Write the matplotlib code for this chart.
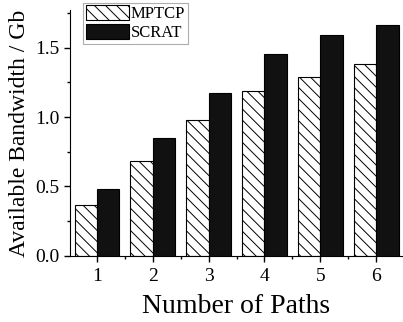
import numpy as np
import matplotlib
matplotlib.use("Agg")
import matplotlib.pyplot as plt
from matplotlib.ticker import MultipleLocator, FormatStrFormatter

# datos
paths = [1, 2, 3, 4, 5, 6]
mptcp = [0.37, 0.68, 0.98, 1.19, 1.29, 1.38]
scrat = [0.48, 0.85, 1.17, 1.45, 1.59, 1.66]

plt.rcParams['font.family'] = ['Liberation Serif', 'DejaVu Serif']
plt.rcParams['hatch.linewidth'] = 0.7

fig = plt.figure(figsize=(4.03, 3.22), dpi=100)
ax = fig.add_axes([0.174, 0.205, 0.826, 0.764])

x = np.array(paths)
w = 0.4
ax.bar(x - w / 2, mptcp, width=w, color='white', edgecolor='black',
       hatch='\\\\\\', linewidth=0.8, label='MPTCP')
ax.bar(x + w / 2, scrat, width=w, color='#111111', edgecolor='black',
       linewidth=0.8, label='SCRAT')

ax.set_xlim(0.52, 6.48)
ax.set_ylim(0, 1.77)
ax.set_xticks(paths)
ax.set_xticks(x[:-1] + 0.5, minor=True)
ax.yaxis.set_major_locator(MultipleLocator(0.5))
ax.yaxis.set_minor_locator(MultipleLocator(0.25))
ax.yaxis.set_major_formatter(FormatStrFormatter('%.1f'))

for s in ['top', 'right']:
    ax.spines[s].set_visible(False)
ax.tick_params(which='major', direction='out', length=4, width=1, labelsize=14)
ax.tick_params(which='minor', direction='out', length=2.5, width=1)
ax.tick_params(axis='x', pad=5)

ax.set_xlabel('Number of Paths', fontsize=20, labelpad=6)
ax.set_ylabel('Available Bandwidth / Gb', fontsize=17, labelpad=4)

leg = ax.legend(loc='upper left', bbox_to_anchor=(0.04, 1.03), fontsize=12,
                frameon=True, fancybox=False, handlelength=2.6, handleheight=1.0,
                borderpad=0.15, labelspacing=0.1, handletextpad=0.1,
                borderaxespad=0)
leg.get_frame().set_edgecolor('#999999')
leg.get_frame().set_linewidth(0.8)

fig.savefig('out.png', dpi=100)
